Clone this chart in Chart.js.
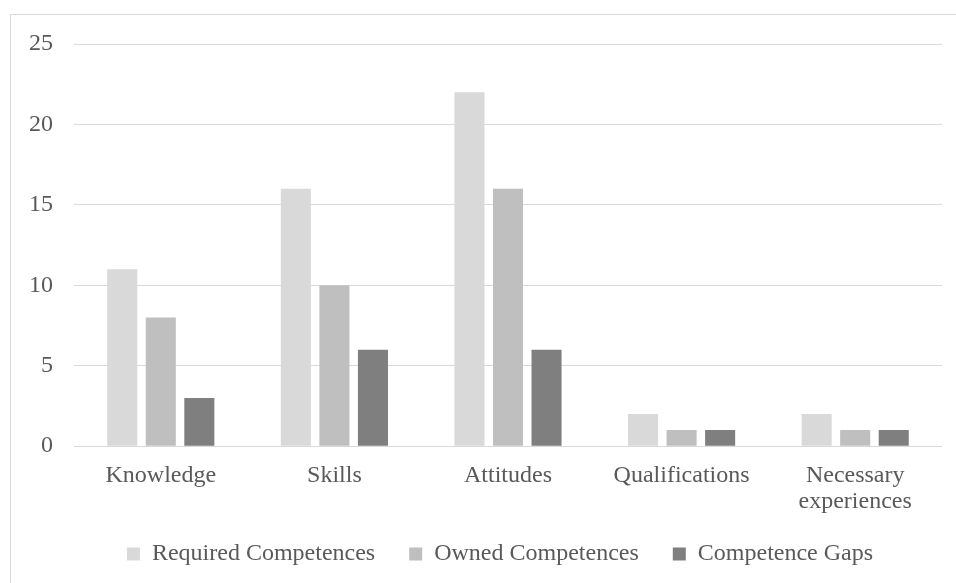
<!DOCTYPE html>
<html>
<head>
<meta charset="utf-8">
<script src="https://cdn.jsdelivr.net/npm/chart.js@4"></script>
<style>
  html, body { margin: 0; padding: 0; background: #fff; }
  #wrap { position: relative; width: 956px; height: 583px; overflow: hidden; }
  #frame { position: absolute; left: 10px; top: 14px; width: 960px; height: 600px; border: 1px solid #d9d9d9; box-sizing: border-box; }
  canvas { position: absolute; left: 0; top: 0; }
</style>
</head>
<body>
<div id="wrap">
  <div id="frame"></div>
  <canvas id="chart" width="956" height="583"></canvas>
</div>
<script>
// data
const categories = ['Knowledge', 'Skills', 'Attitudes', 'Qualifications', ['Necessary', 'experiences']];
const required = [11, 16, 22, 2, 2];
const owned = [8, 10, 16, 1, 1];
const gaps = [3, 6, 6, 1, 1];
const yTicks = [0, 5, 10, 15, 20, 25];

const textColor = '#595959';
const fontFamily = '"Liberation Serif", "Times New Roman", serif';

// legend sits a bit tighter and right of centre in the original
const legendNudge = {
    id: 'legendNudge',
    beforeLayout(chart) {
        const legend = chart.legend;
        if (legend && !legend._nudged) {
            const fit = legend.fit.bind(legend);
            legend.fit = function () {
                fit();
                this.height -= 12;
            };
            legend._nudged = true;
        }
    },
    afterLayout(chart) {
        const legend = chart.legend;
        if (!legend) return;
        legend.left += 25;
        legend.right += 25;
        legend.top -= 15;
    }
};

const ctx = document.getElementById('chart');
new Chart(ctx, {
    type: 'bar',
    data: {
        labels: categories,
        datasets: [
            { label: 'Required Competences', data: required, backgroundColor: '#d9d9d9' },
            { label: 'Owned Competences', data: owned, backgroundColor: '#bfbfbf' },
            { label: 'Competence Gaps', data: gaps, backgroundColor: '#7f7f7f' }
        ]
    },
    plugins: [legendNudge],
    options: {
        responsive: false,
        animation: false,
        devicePixelRatio: 1,
        categoryPercentage: 0.666,
        barPercentage: 0.78,
        layout: { padding: { left: 8, right: 14, top: 44, bottom: 4 } },
        plugins: {
            legend: {
                position: 'bottom',
                labels: {
                    boxWidth: 13,
                    boxHeight: 13,
                    padding: 34,
                    color: textColor,
                    font: { family: fontFamily, size: 24 }
                }
            },
            tooltip: { enabled: false }
        },
        scales: {
            x: {
                grid: { display: false },
                border: { display: false },
                ticks: {
                    color: textColor,
                    padding: 8,
                    maxRotation: 0,
                    font: { family: fontFamily, size: 24, lineHeight: 1.1 }
                }
            },
            y: {
                min: 0,
                max: 25,
                afterBuildTicks: axis => { axis.ticks = yTicks.map(v => ({ value: v })); },
                grid: { color: '#d9d9d9', lineWidth: 1, drawTicks: false },
                border: { display: false },
                ticks: {
                    color: textColor,
                    padding: 21,
                    font: { family: fontFamily, size: 24 }
                }
            }
        }
    }
});
</script>
</body>
</html>
